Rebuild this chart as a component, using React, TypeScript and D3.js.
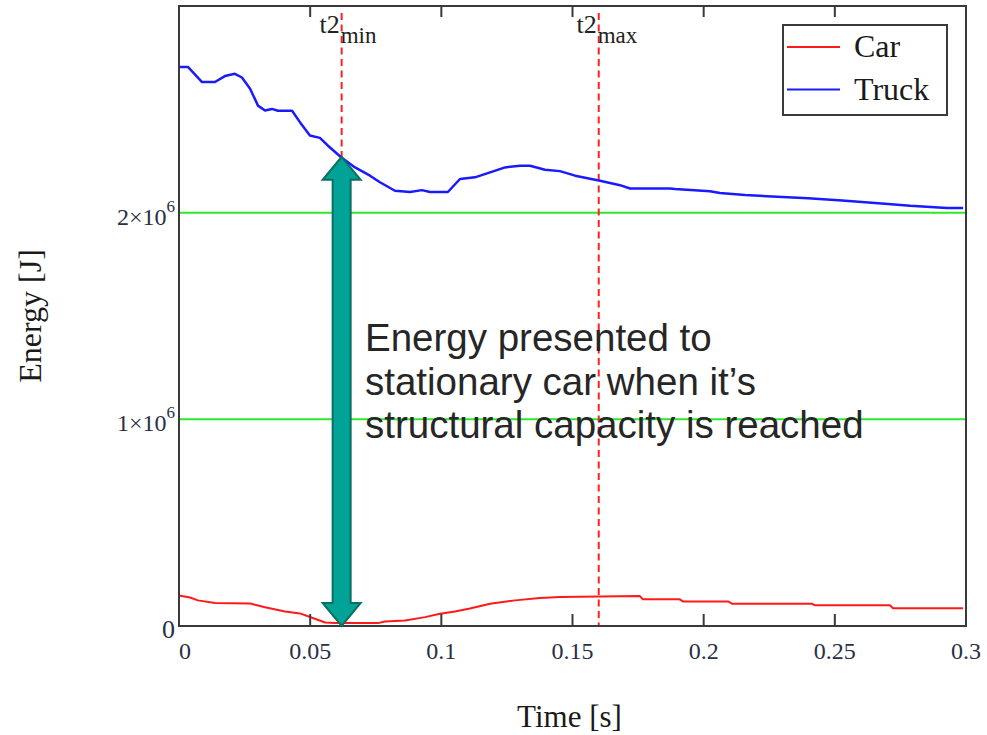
import React from 'react';
import * as d3 from 'd3';

// time [s] and energy [MJ]
const truckTime = [0, 0.0034, 0.0088, 0.0137, 0.0175, 0.0213, 0.024, 0.0271, 0.0301, 0.0328, 0.0354, 0.0377, 0.0431, 0.0461, 0.0499, 0.0537, 0.0568, 0.0618, 0.0671, 0.0728, 0.0766, 0.0823, 0.0881, 0.0926, 0.0957, 0.1025, 0.1071, 0.1128, 0.1186, 0.1243, 0.13, 0.1338, 0.1395, 0.1452, 0.151, 0.1605, 0.1681, 0.1719, 0.1872, 0.1891, 0.2024, 0.2062, 0.2158, 0.2398, 0.2528, 0.2691, 0.2787, 0.2928, 0.2989];
const truckEnergy = [2.705, 2.705, 2.632, 2.632, 2.661, 2.672, 2.654, 2.6, 2.518, 2.494, 2.502, 2.493, 2.493, 2.438, 2.373, 2.362, 2.324, 2.268, 2.219, 2.179, 2.147, 2.106, 2.1, 2.109, 2.1, 2.1, 2.163, 2.171, 2.195, 2.219, 2.227, 2.227, 2.208, 2.201, 2.179, 2.154, 2.133, 2.117, 2.117, 2.114, 2.104, 2.095, 2.085, 2.07, 2.059, 2.043, 2.033, 2.023, 2.023];

const carTime = [0, 0.0042, 0.0072, 0.0137, 0.0271, 0.0328, 0.0404, 0.0461, 0.0518, 0.0557, 0.0595, 0.0671, 0.0759, 0.0785, 0.0862, 0.0938, 0.0995, 0.1052, 0.1109, 0.1186, 0.1281, 0.1376, 0.1452, 0.1757, 0.1768, 0.1909, 0.1921, 0.2093, 0.2108, 0.2413, 0.2424, 0.271, 0.2722, 0.2989];
const carEnergy = [0.148, 0.138, 0.124, 0.111, 0.109, 0.091, 0.07, 0.061, 0.035, 0.017, 0.014, 0.014, 0.014, 0.022, 0.027, 0.043, 0.059, 0.07, 0.085, 0.108, 0.124, 0.136, 0.14, 0.145, 0.129, 0.129, 0.119, 0.119, 0.108, 0.108, 0.1, 0.1, 0.086, 0.086];

const xTicks = [0, 0.05, 0.1, 0.15, 0.2, 0.25, 0.3];
const xTickLabels = ['0', '0.05', '0.1', '0.15', '0.2', '0.25', '0.3'];
const yTicks = [0, 1e6, 2e6];
const yTickMantissa = ['0', '1', '2'];
const gridValues = [1e6, 2e6];

const t2min = 0.062;
const t2max = 0.16;
const arrowTopEnergy = 2.27e6; // truck energy where the arrow starts

const seriesNames = ['Car', 'Truck'];
const seriesColors = ['#ff1a1a', '#1a1aff'];

const noteLines = [
  'Energy presented to',
  'stationary car when it\u2019s',
  'structural capacity is reached',
];

const W = 987;
const H = 735;
const margin = { left: 179, right: 21, top: 6, bottom: 109 };

const serif = '"Liberation Serif", "Times New Roman", serif';
const sans = '"Liberation Sans", Arial, sans-serif';

export default function App() {
  const x = d3.scaleLinear().domain([0, 0.3]).range([margin.left, W - margin.right]);
  const y = d3.scaleLinear().domain([0, 3e6]).range([H - margin.bottom, margin.top]);

  const line = d3
    .line<[number, number]>()
    .x((d) => x(d[0]))
    .y((d) => y(d[1] * 1e6));

  const truckPts = truckTime.map((t, i) => [t, truckEnergy[i]] as [number, number]);
  const carPts = carTime.map((t, i) => [t, carEnergy[i]] as [number, number]);

  const x0 = x.range()[0];
  const x1 = x.range()[1];
  const yb = y.range()[0];
  const yt = y.range()[1];

  // double-headed arrow
  const ax = x(t2min);
  const aTop = y(arrowTopEnergy);
  const aBot = y(0);
  const headL = 23;
  const headW = 19;
  const shaftW = 9;
  const arrow = d3.path();
  arrow.moveTo(ax, aTop);
  arrow.lineTo(ax + headW, aTop + headL);
  arrow.lineTo(ax + shaftW, aTop + headL);
  arrow.lineTo(ax + shaftW, aBot - headL);
  arrow.lineTo(ax + headW, aBot - headL);
  arrow.lineTo(ax, aBot);
  arrow.lineTo(ax - headW, aBot - headL);
  arrow.lineTo(ax - shaftW, aBot - headL);
  arrow.lineTo(ax - shaftW, aTop + headL);
  arrow.lineTo(ax - headW, aTop + headL);
  arrow.closePath();

  const innerTicks = xTicks.slice(1, -1);

  return (
    <svg
      width={W}
      height={H}
      style={{ position: 'absolute', left: 0, top: 0, background: '#fff' }}
    >
      {/* green grid lines */}
      {gridValues.map((v) => (
        <line key={v} x1={x0} x2={x1} y1={y(v)} y2={y(v)} stroke="#2ee82e" strokeWidth={2} />
      ))}

      {/* markers t2min / t2max */}
      {[t2min, t2max].map((t) => (
        <line
          key={t}
          x1={x(t)}
          x2={x(t)}
          y1={yt + 7}
          y2={yb}
          stroke="#ff2020"
          strokeWidth={2}
          strokeDasharray="7,4.5"
        />
      ))}

      <path d={line(truckPts) || ''} fill="none" stroke={seriesColors[1]} strokeWidth={2.5} strokeLinejoin="round" />
      <path d={line(carPts) || ''} fill="none" stroke={seriesColors[0]} strokeWidth={2} strokeLinejoin="round" />

      {/* frame */}
      <rect x={x0} y={yt} width={x1 - x0} height={yb - yt} fill="none" stroke="#3a3a3a" strokeWidth={2} />
      {innerTicks.map((t) => (
        <g key={t}>
          <line x1={x(t)} x2={x(t)} y1={yb} y2={yb - 12} stroke="#3a3a3a" strokeWidth={2} />
          <line x1={x(t)} x2={x(t)} y1={yt} y2={yt + 11} stroke="#3a3a3a" strokeWidth={2} />
        </g>
      ))}

      {/* x tick labels */}
      {xTicks.map((t, i) => (
        <text
          key={t}
          x={x(t) + (i === 0 ? 6 : 0)}
          y={yb + 33}
          textAnchor="middle"
          fontFamily={serif}
          fontSize={24}
          fill="#2a2f45"
        >
          {xTickLabels[i]}
        </text>
      ))}

      {/* y tick labels */}
      {yTicks.map((v, i) =>
        v === 0 ? (
          <text key={v} x={x0 - 4} y={y(v) + 12} textAnchor="end" fontFamily={serif} fontSize={26} fill="#2a2f45">
            {yTickMantissa[i]}
          </text>
        ) : (
          <text key={v} x={x0 - 4} y={y(v) + 12} textAnchor="end" fontFamily={serif} fontSize={24} fill="#2a2f45">
            {yTickMantissa[i]}
            {'\u00d710'}
            <tspan fontSize={17} dy={-13}>6</tspan>
          </text>
        )
      )}

      {/* marker labels */}
      {[
        [t2min, 'min'],
        [t2max, 'max'],
      ].map(([t, sub]) => (
        <g key={sub as string} fontFamily={serif} fill="#222">
          <text x={x(t as number) - 2} y={yt + 27} textAnchor="end" fontSize={26}>
            t2
          </text>
          <text x={x(t as number) - 1} y={yt + 37} fontSize={23}>
            {sub as string}
          </text>
        </g>
      ))}

      {/* legend */}
      <rect x={783} y={25} width={164} height={90} fill="#fff" stroke="#3a3a3a" strokeWidth={2} />
      {seriesNames.map((name, i) => (
        <g key={name}>
          <line x1={787} x2={840} y1={47 + i * 42.5} y2={47 + i * 42.5} stroke={seriesColors[i]} strokeWidth={2} />
          <text x={854} y={57 + i * 42.5} fontFamily={serif} fontSize={32} fill="#1a1a1a">
            {name}
          </text>
        </g>
      ))}

      {/* arrow */}
      <path d={arrow.toString()} fill="#00a396" stroke="#0b6f63" strokeWidth={2} strokeLinejoin="miter" />

      {/* annotation */}
      {noteLines.map((s, i) => (
        <text key={i} x={365} y={351 + i * 43.5} fontFamily={sans} fontSize={38.5} fill="#262626">
          {s}
        </text>
      ))}

      {/* axis titles */}
      <text x={(x0 + x1) / 2 - 3} y={727} textAnchor="middle" fontFamily={serif} fontSize={31} fill="#1a1a1a">
        Time [s]
      </text>
      <text
        transform={`translate(41, ${(yt + yb) / 2}) rotate(-90)`}
        textAnchor="middle"
        fontFamily={serif}
        fontSize={32}
        fill="#1a1a1a"
      >
        Energy [J]
      </text>
    </svg>
  );
}
